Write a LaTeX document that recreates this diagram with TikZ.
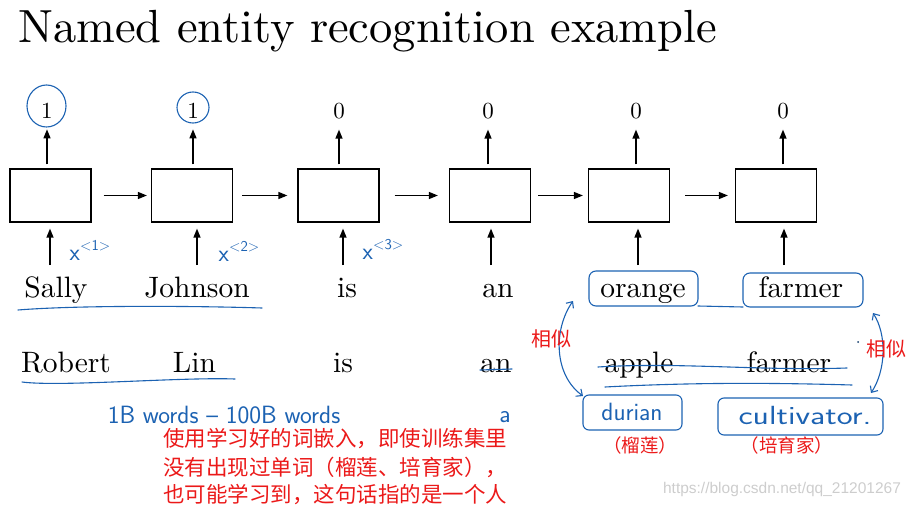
\documentclass[tikz,border=0pt]{standalone}
\usepackage{fontspec}
\usetikzlibrary{arrows.meta,calc}
\newfontfamily\lmten{lmroman10-regular}[Extension=.otf]
\newfontfamily\cjk{Noto Sans CJK SC}
\newfontfamily\wm{Liberation Sans}
\definecolor{pen}{RGB}{28,98,178}
\definecolor{zh}{RGB}{235,25,25}
\definecolor{wmgray}{RGB}{205,205,205}
\newcommand{\handx}[1]{{\fontsize{24}{24}\selectfont x}\raisebox{10pt}{\fontsize{15}{15}\selectfont <#1>}}
\tikzset{
  cell/.style={draw, line width=1.2pt, minimum width=81pt, minimum height=53pt, inner sep=0pt},
  arr/.style={line width=1.3pt, -{Triangle[length=9pt,width=7pt]}},
  word/.style={font=\lmten\fontsize{29.5}{32}\selectfont, inner sep=0pt, anchor=base},
  num/.style={font=\lmten\fontsize{23}{26}\selectfont, inner sep=0pt},
  hand/.style={draw=pen, line width=1.1pt, line cap=round, line join=round},
  harr/.style={hand, {Straight Barb[length=5pt,width=9pt]}-{Straight Barb[length=5pt,width=9pt]}},
  handtext/.style={text=pen, font=\sffamily\fontsize{25}{28}\selectfont, inner sep=0pt},
  supx/.style={text=pen, font=\sffamily, inner sep=0pt},
  zhtext/.style={text=zh, font=\cjk\fontsize{21.5}{28}\selectfont, inner sep=0pt, anchor=west},
  zhsmall/.style={text=zh, font=\cjk\fontsize{18.5}{20}\selectfont, inner sep=0pt},
}
\begin{document}
\begin{tikzpicture}[x=1pt,y=-1pt]
\useasboundingbox (0,0) rectangle (914,508);
% title
\node[font=\lmten\fontsize{46.5}{50}\selectfont, inner sep=0pt, anchor=base west] (title) at (18,43) {Named entity recognition example};
% cells
\node[cell] (b1) at (50.5,195.5) {};
\node[cell] (b2) at (192,195.5) {};
\node[cell] (b3) at (338.5,195.5) {};
\node[cell] (b4) at (490,195.5) {};
\node[cell] (b5) at (629,195.5) {};
\node[cell] (b6) at (776,195.5) {};
% outputs
\node[num] (n1) at (47,111) {1};
\node[num] (n2) at (193,111) {1};
\node[num] (n3) at (339,111) {0};
\node[num] (n4) at (488,111) {0};
\node[num] (n5) at (636,111) {0};
\node[num] (n6) at (783,111) {0};
\foreach \i in {1,...,6}{
  \draw[arr, shorten <=4pt, shorten >=10.5pt] (n\i |- b\i.north) -- (n\i);
}
% recurrent arrows
\draw[arr, shorten <=12pt, shorten >=4pt] (b1.east) -- (b2.west);
\draw[arr, shorten <=9pt, shorten >=10pt] (b2.east) -- (b3.west);
\draw[arr, shorten <=15pt, shorten >=11pt] (b3.east) -- (b4.west);
\draw[arr, shorten <=7pt, shorten >=5pt] (b4.east) -- (b5.west);
\draw[arr, shorten <=15pt, shorten >=7pt] (b5.east) -- (b6.west);
% inputs
\coordinate (i1) at (50,265);
\coordinate (i2) at (197,265);
\coordinate (i3) at (343,265);
\coordinate (i4) at (491,265);
\coordinate (i5) at (638,265);
\coordinate (i6) at (784,265);
\foreach \i in {1,...,6}{
  \draw[arr, shorten >=6pt] (i\i) -- (i\i |- b\i.south);
}
% sentence 1
\node[word] (w1) at (56,297) {Sally};
\node[word] (w2) at (197,297) {Johnson};
\node[word] (w3) at (347,297) {is};
\node[word] (w4) at (498,297) {an};
\node[word] (w5) at (643,297) {orange};
\node[word] (w6) at (801,297) {farmer};
% sentence 2
\node[word] (v1) at (66,372) {Robert};
\node[word] (v2) at (194.5,372) {Lin};
\node[word] (v3) at (343,372) {is};
\node[word] (v4) at (496,372) {an};
\node[word] (v5) at (639,372) {apple};
\node[word] (v6) at (789,372) {farmer};
% handwriting: circles
\draw[hand] (46.5,106) ellipse [x radius=19.5pt, y radius=21pt];
\draw[hand] (193,107.5) ellipse [x radius=16pt, y radius=15.5pt];
% x labels
\node[supx] (x1) at (90,250) {\handx{1}};
\node[supx] (x2) at (239,251) {\handx{2}};
\node[supx] (x3) at (383,249) {\handx{3}};
% underlines
\draw[hand] (18,310) .. controls (80,305) and (200,306) .. (262,308);
\draw[hand] (22,382) .. controls (60,387) and (180,377) .. (235,379);
% boxes around orange / farmer
\draw[hand, rounded corners=7pt] (589,271) rectangle (698,306);
\draw[hand, rounded corners=7pt] (743,273) rectangle (863,307);
\draw[hand] (698,306) -- (743,307);
% similarity arrows
\draw[harr] (573,301) .. controls (553,330) and (554,375) .. (583,396);
\draw[harr] (873,313) .. controls (887,335) and (886,370) .. (871,393);
\fill[pen!60!black] (858,342) circle (1pt);
\node[zhsmall, font=\cjk\fontsize{20}{22}\selectfont] (s1) at (551,339) {相似};
\node[zhsmall, font=\cjk\fontsize{20}{22}\selectfont] (s2) at (886,349) {相似};
% strike / underline second sentence
\draw[hand] (480,370) -- (512,369);
\draw[hand] (598,367) .. controls (680,362) and (760,371) .. (847,368);
\draw[hand] (605,387) .. controls (700,382) and (780,383) .. (852,385);
% durian / cultivator
\draw[hand, rounded corners=6pt] (583,395) rectangle (682,430);
\node[handtext] (d1) at (632,412) {durian};
\draw[hand, rounded corners=6pt] (718,398) rectangle (883,435);
\node[handtext] (d2) at (805,415) {\scalebox{1.35}[1.05]{cultivator.}};
\node[zhsmall] (z1) at (640,445) {（榴莲）};
\node[zhsmall] (z2) at (787,445) {（培育家）};
% corpus note
\node[handtext] (c1) at (224,415) {1B words -- 100B words};
\node[handtext] (c2) at (505,417) {a};
% red note
\node[zhtext] (r1) at (163,439) {使用学习好的词嵌入，即使训练集里};
\node[zhtext] (r2) at (163,467) {没有出现过单词（榴莲、培育家），};
\node[zhtext] (r3) at (163,495) {也可能学习到，这句话指的是一个人};
% watermark
\node[text=wmgray, font=\wm\fontsize{15.5}{18}\selectfont, inner sep=0pt] (wmk) at (782,489) {https://blog.csdn.net/qq\_21201267};
\end{tikzpicture}
\end{document}
